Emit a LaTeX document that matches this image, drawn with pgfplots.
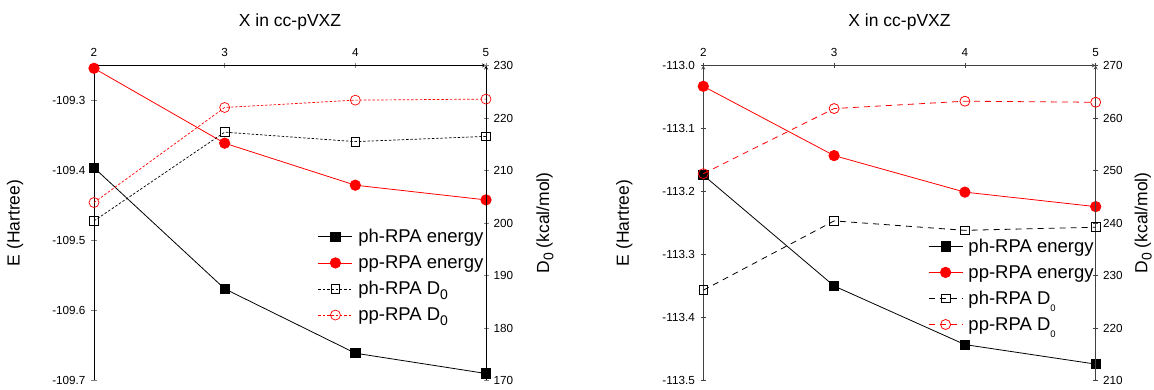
\documentclass[border=0pt]{standalone}
\usepackage{fontspec}
\setmainfont{Liberation Sans}
\usepackage{pgfplots}
\pgfplotsset{compat=1.18}

\newcommand{\ticksize}{\fontsize{11.7bp}{14bp}\selectfont}
\newcommand{\labsize}{\fontsize{17.5bp}{21bp}\selectfont}
\newcommand{\legsize}{\fontsize{18.5bp}{22bp}\selectfont}
% subscript zero, two sizes
\newcommand{\subA}{\raisebox{-0.45ex}{\fontsize{14bp}{14bp}\selectfont 0}}
\newcommand{\subB}{\raisebox{-0.75ex}{\fontsize{9.5bp}{10bp}\selectfont 0}}

\pgfplotsset{
  panel/.style={
    scale only axis, width=392bp, height=315bp,
    xmin=2, xmax=5, xtick={2,3,4,5},
    tick align=outside, major tick length=5bp, minor tick num=0,
    tick style={line width=0.8bp},
    axis line style={-, line width=0.8bp},
    tick label style={font=\ticksize},
    /pgf/number format/assume math mode=true,
    clip=false,
  },
  energy/.style={
    panel, axis x line=top, axis y line=left,
    xlabel={X in cc-pVXZ},
    xlabel style={font=\labsize, at={(axis description cs:0.5,1.139)}, anchor=center},
    xticklabel style={yshift=3bp},
    ylabel={E (Hartree)},
    ylabel style={font=\labsize, at={(axis description cs:-0.2015,0.5)}, anchor=center},
    yticklabel style={xshift=-2.5bp, /pgf/number format/.cd, fixed, fixed zerofill, precision=1},
  },
  dzero/.style={
    panel, axis x line=none, axis y line=right,
    yticklabel style={xshift=1.5bp, /pgf/number format/.cd, fixed, precision=0},
    ylabel={D\subA\ (kcal/mol)},
  },
  phE/.style={black, line width=0.8bp, mark=square*, mark size=4.6bp, mark options={solid, fill=black}},
  ppE/.style={red, line width=0.8bp, mark=*, mark size=5.2bp, mark options={solid, fill=red}},
  legend image code/.code={\draw[mark repeat=2, mark phase=2, #1] plot coordinates {(0bp,0bp) (17bp,0bp) (34bp,0bp)};},
  leg/.style={legend cell align=left,
    legend style={draw=none, fill=none, font=\legsize, inner sep=0pt, row sep=8.5bp, column sep=4bp,
      nodes={inner sep=1.5bp}, at={(axis description cs:#1)}, anchor=north west}},
}

\begin{document}
\begin{tikzpicture}
\useasboundingbox (0,0) rectangle (1154bp,390bp);

% ---------- left panel ----------
\begin{axis}[energy, at={(94bp,9.5bp)}, anchor=south west,
  ymin=-109.7, ymax=-109.25, ytick={-109.7,-109.6,-109.5,-109.4,-109.3}]
\addplot[phE] coordinates {(2,-109.396) (3,-109.569) (4,-109.661) (5,-109.690)};
\addplot[ppE] coordinates {(2,-109.254) (3,-109.361) (4,-109.421) (5,-109.442)};
\end{axis}
\begin{axis}[dzero, at={(94bp,9.5bp)}, anchor=south west,
  ymin=170, ymax=230, ytick={170,180,...,230},
  ylabel style={font=\labsize, at={(axis description cs:1.1505,0.5)}, anchor=center},
  leg={0.571,0.485}]
\addlegendimage{phE}\addlegendentry{ph-RPA energy}
\addlegendimage{ppE}\addlegendentry{pp-RPA energy}
\addplot[black, line width=0.7bp, dash pattern=on 2.5bp off 1.8bp, mark=square, mark size=4.4bp, mark options={solid, fill=white}]
  coordinates {(2,200.4) (3,217.3) (4,215.5) (5,216.5)};
\addlegendentry{ph-RPA D\subA}
\addplot[red, line width=0.7bp, dash pattern=on 2.5bp off 1.8bp, mark=o, mark size=5bp, mark options={solid, fill=white}]
  coordinates {(2,203.9) (3,222.0) (4,223.4) (5,223.6)};
\addlegendentry{pp-RPA D\subA}
\end{axis}

% ---------- right panel ----------
\begin{axis}[energy, at={(703.3bp,9.5bp)}, anchor=south west, width=392.4bp,
  axis line style={black!75}, tick style={black!75},
  ymin=-113.5, ymax=-113.0, ytick={-113.5,-113.4,...,-112.95}]
\addplot[phE] coordinates {(2,-113.174) (3,-113.350) (4,-113.443) (5,-113.474)};
\addplot[ppE] coordinates {(2,-113.033) (3,-113.143) (4,-113.201) (5,-113.224)};
\end{axis}
\begin{axis}[dzero, at={(703.3bp,9.5bp)}, anchor=south west, width=392.4bp,
  axis line style={black!75}, tick style={black!75},
  ymin=210, ymax=270, ytick={210,220,...,270},
  ylabel style={font=\labsize, at={(axis description cs:1.121,0.5)}, anchor=center},
  leg={0.5726,0.455}]
\addlegendimage{phE}\addlegendentry{ph-RPA energy}
\addlegendimage{ppE}\addlegendentry{pp-RPA energy}
\addplot[black, line width=0.8bp, dash pattern=on 6bp off 5bp, mark=square, mark size=4.4bp, mark options={solid, fill=white}]
  coordinates {(2,227.2) (3,240.4) (4,238.6) (5,239.2)};
\addlegendentry{ph-RPA D\subB}
\addplot[red, line width=0.8bp, dash pattern=on 6bp off 5bp, mark=o, mark size=5bp, mark options={solid, fill=white}]
  coordinates {(2,249.4) (3,261.8) (4,263.2) (5,263.0)};
\addlegendentry{pp-RPA D\subB}
\end{axis}
\end{tikzpicture}
\end{document}
